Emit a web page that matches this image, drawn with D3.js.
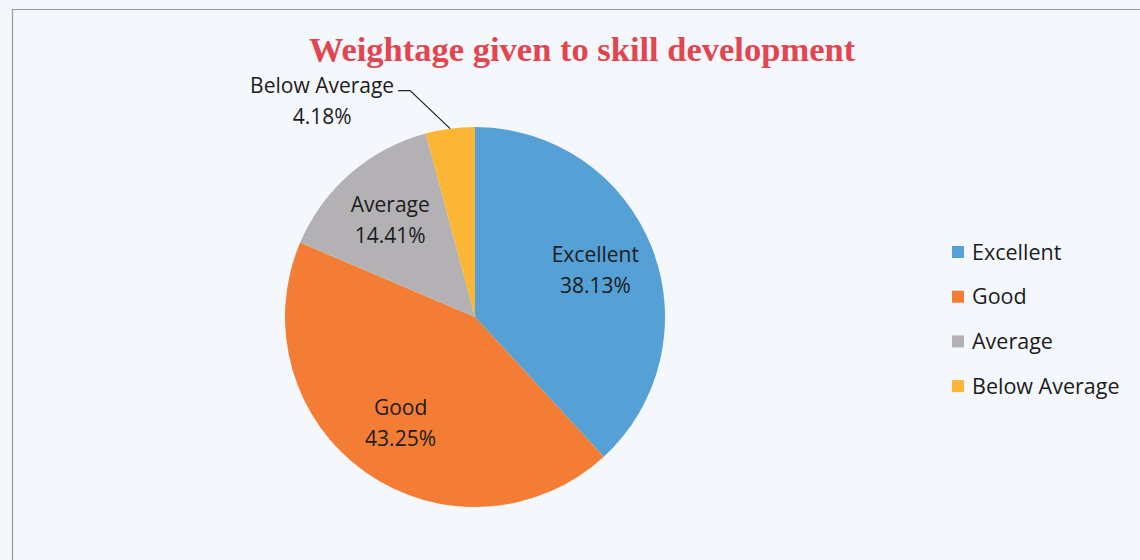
<!DOCTYPE html>
<html>
<head>
<meta charset="utf-8">
<script src="https://cdn.jsdelivr.net/npm/d3@7"></script>
<style>
  html, body { margin: 0; padding: 0; background: #f4f7fb; }
  svg { display: block; }
</style>
</head>
<body>
<div id="chart"></div>
<script>
// chart data
var categories = ['Excellent', 'Good', 'Average', 'Below Average'];
var shares = [38.13, 43.25, 14.41, 4.18];
var colors = ['#55a0d5', '#f47d36', '#b3b1b4', '#fab634'];
var title = 'Weightage given to skill development';

var width = 1140, height = 560;
var cx = 475, cy = 317, radius = 190;

var svg = d3.select('#chart').append('svg')
    .attr('width', width)
    .attr('height', height);

svg.append('rect')
    .attr('width', width).attr('height', height)
    .attr('fill', '#f4f7fb');

// frame of the chart area (cut off on the right / bottom in the scan)
svg.append('path')
    .attr('d', 'M12.5,' + height + 'V9.5H' + width)
    .attr('fill', 'none')
    .attr('stroke', '#9a9a9e')
    .attr('stroke-width', 1.2);

svg.append('text')
    .attr('x', 582)
    .attr('y', 61)
    .attr('text-anchor', 'middle')
    .attr('font-family', '"Liberation Serif", "Times New Roman", serif')
    .attr('font-weight', 'bold')
    .attr('font-size', 34.5)
    .attr('fill', '#e2454f')
    .text(title);

var data = categories.map(function (c, i) {
    return { name: c, value: shares[i], color: colors[i] };
});

var pie = d3.pie().sort(null).value(function (d) { return d.value; });
var arcs = pie(data);

var arc = d3.arc().innerRadius(0).outerRadius(radius);
var labelArc = d3.arc().innerRadius(radius * 0.68).outerRadius(radius * 0.68);
var edgeArc = d3.arc().innerRadius(radius).outerRadius(radius);

var g = svg.append('g').attr('transform', 'translate(' + cx + ',' + cy + ')');

g.selectAll('path.slice')
    .data(arcs)
    .enter().append('path')
    .attr('class', 'slice')
    .attr('d', arc)
    .attr('fill', function (d) { return d.data.color; });

var labelFont = '"Open Sans", Lato, sans-serif';

// labels inside the big slices, leader line for the thin one
arcs.forEach(function (d) {
    var lines = [d.data.name, d3.format('.2f')(d.data.value) + '%'];
    var pos;
    if (d.data.value > 8) {
        pos = labelArc.centroid(d);
    } else {
        var p0 = edgeArc.centroid(d);
        var p1 = [p0[0] - 40, p0[1] - 38];
        var p2 = [p1[0] - 12, p1[1]];
        g.append('polyline')
            .attr('points', [p0, p1, p2].map(function (p) { return p.join(','); }).join(' '))
            .attr('fill', 'none')
            .attr('stroke', '#222')
            .attr('stroke-width', 1.2);
        pos = [p2[0] - 76, p2[1] + 10];
    }
    var t = g.append('text')
        .attr('text-anchor', 'middle')
        .attr('font-family', labelFont)
        .attr('font-size', 21)
        .attr('fill', '#1c1c1c');
    lines.forEach(function (s, k) {
        t.append('tspan')
            .attr('x', pos[0])
            .attr('y', pos[1] + (k === 0 ? -8 : 23))
            .text(s);
    });
});

// legend
var legend = svg.append('g').attr('transform', 'translate(952,252)');
var rows = legend.selectAll('g.row')
    .data(data)
    .enter().append('g')
    .attr('class', 'row')
    .attr('transform', function (d, i) { return 'translate(0,' + (i * 44.7) + ')'; });

rows.append('rect')
    .attr('x', 0).attr('y', -6)
    .attr('width', 12).attr('height', 12)
    .attr('fill', function (d) { return d.color; });

rows.append('text')
    .attr('x', 20)
    .attr('y', 7.5)
    .attr('font-family', labelFont)
    .attr('font-size', 21.5)
    .attr('fill', '#1c1c1c')
    .text(function (d) { return d.name; });
</script>
</body>
</html>
